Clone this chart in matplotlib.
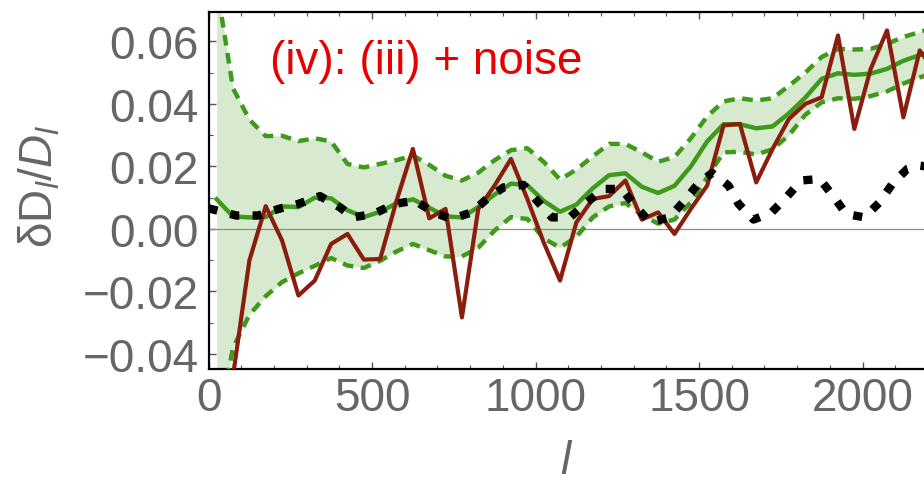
import numpy as np
import matplotlib
matplotlib.use('Agg')
import matplotlib.pyplot as plt
from matplotlib.ticker import MultipleLocator

# multipole bin centres
ell = [25 + 50 * i for i in range(45)]

# (iv) residual with noise
red_v = [-0.090, -0.047, -0.0101, 0.0073, -0.0037, -0.0213, -0.0165, -0.0048, -0.0016,
         -0.0098, -0.0096, 0.0090, 0.0256, 0.0034, 0.0064, -0.0283, 0.0064, 0.0139,
         0.0224, 0.0096, -0.0043, -0.0165, 0.0021, 0.0096, 0.0105, 0.0155, 0.0030,
         0.0053, -0.0016, 0.0064, 0.0139, 0.0331, 0.0336, 0.0149, 0.0256, 0.0352,
         0.0400, 0.0421, 0.0619, 0.0320, 0.0512, 0.0635, 0.0357, 0.0571, 0.0500]

# mean and band edges
mean_v = [0.0095, 0.0040, 0.0037, 0.0038, 0.0072, 0.0070, 0.0100, 0.0098, 0.0060,
          0.0038, 0.0055, 0.0082, 0.0095, 0.0068, 0.0040, 0.0037, 0.0070, 0.0110,
          0.0145, 0.0140, 0.0090, 0.0055, 0.0078, 0.0130, 0.0172, 0.0178, 0.0135,
          0.0115, 0.0138, 0.0200, 0.0280, 0.0335, 0.0335, 0.0322, 0.0328, 0.0370,
          0.0420, 0.0480, 0.0498, 0.0493, 0.0497, 0.0512, 0.0538, 0.0556, 0.0570]
upper_v = [0.078, 0.045, 0.035, 0.0297, 0.0298, 0.0281, 0.0290, 0.0280, 0.0208,
           0.0197, 0.0208, 0.0220, 0.0235, 0.0205, 0.0170, 0.0155, 0.0180, 0.0220,
           0.0252, 0.0258, 0.0215, 0.0158, 0.0190, 0.0232, 0.0272, 0.0272, 0.0245,
           0.0215, 0.0230, 0.0290, 0.0360, 0.0408, 0.0418, 0.0411, 0.0418, 0.0458,
           0.0500, 0.0550, 0.0576, 0.0574, 0.0576, 0.0592, 0.0614, 0.0630, 0.0645]
lower_v = [-0.065, -0.038, -0.0275, -0.0215, -0.0170, -0.0142, -0.0118, -0.0093, -0.0117,
           -0.0125, -0.0102, -0.0072, -0.0048, -0.0068, -0.0088, -0.0088, -0.0060, -0.0005,
           0.0038, 0.0032, -0.0030, -0.0060, -0.0025, 0.0037, 0.0072, 0.0083, 0.0045,
           0.0017, 0.0030, 0.0085, 0.0165, 0.0245, 0.0247, 0.0238, 0.0255, 0.0300,
           0.0365, 0.0405, 0.0418, 0.0416, 0.0425, 0.0440, 0.0465, 0.0485, 0.0500]

# theory curve (iii)
theo_l = [0, 85, 152, 214, 274, 341, 402, 442, 504, 571, 631, 688, 743, 805, 851, 902,
          963, 1009, 1050, 1105, 1157, 1208, 1263, 1309, 1350, 1410, 1456, 1497, 1540,
          1590, 1621, 1667, 1722, 1767, 1813, 1869, 1909, 1950, 2006, 2052, 2091, 2137,
          2172, 2230]
theo_v = [0.0066, 0.0043, 0.0043, 0.0064, 0.0080, 0.0105, 0.0069, 0.0037, 0.0048, 0.0080,
          0.0091, 0.0053, 0.0032, 0.0053, 0.0096, 0.0133, 0.0141, 0.0085, 0.0037, 0.0037,
          0.0085, 0.0128, 0.0128, 0.0069, 0.0021, 0.0037, 0.0091, 0.0144, 0.0179, 0.0139,
          0.0080, 0.0030, 0.0053, 0.0101, 0.0155, 0.0160, 0.0107, 0.0048, 0.0037, 0.0085,
          0.0144, 0.0192, 0.0203, 0.0195]

plt.rcParams['font.family'] = ['Liberation Sans', 'DejaVu Sans']
plt.rcParams['mathtext.fontset'] = 'custom'
plt.rcParams['mathtext.rm'] = 'Liberation Sans'
plt.rcParams['mathtext.it'] = 'Liberation Sans:italic'

W, H = 924, 485
fig = plt.figure(figsize=(W / 100, H / 100), dpi=100)
x0, x1 = 208.5, 208.5 + 2500 * 0.327
y_top, y_bot = 13, 370
ax = fig.add_axes([x0 / W, 1 - y_bot / H, (x1 - x0) / W, (y_bot - y_top) / H])

green = '#3f9a1b'
ax.fill_between(ell, lower_v, upper_v, color='#d7e9cf', lw=0, zorder=1)
ax.axhline(0, color='#8c8c8c', lw=0.9, zorder=2)
ax.plot(ell, upper_v, color=green, lw=3.2, dashes=(2.4, 1.7), dash_capstyle='butt', zorder=3)
ax.plot(ell, lower_v, color=green, lw=3.2, dashes=(2.4, 1.7), dash_capstyle='butt', zorder=3)
ax.plot(ell, mean_v, color=green, lw=3.2, zorder=4)
ax.plot(ell, red_v, color='#8b1d0e', lw=3.0, zorder=5)
ax.plot(theo_l, theo_v, color='black', lw=6.0, dashes=(1.1, 1.6), dash_capstyle='butt', zorder=6)

ax.set_xlim(0, 2500)
ax.set_ylim(-0.0448, 0.0694)
ax.xaxis.set_major_locator(MultipleLocator(500))
ax.xaxis.set_minor_locator(MultipleLocator(100))
ax.yaxis.set_major_locator(MultipleLocator(0.02))
ax.yaxis.set_minor_locator(MultipleLocator(0.01))
ax.set_yticks([-0.04, -0.02, 0.0, 0.02, 0.04, 0.06])
ax.set_yticklabels(['\u22120.04', '\u22120.02', '0.00', '0.02', '0.04', '0.06'])
ax.set_xticks([0, 500, 1000, 1500, 2000])
ax.set_xticklabels(['0', '500', '1000', '1500', '2000'])
ax.tick_params(which='both', direction='in', top=True, right=True, color='#555555',
               labelcolor='#666666', labelsize=33)
ax.tick_params(axis='y', pad=7)
ax.tick_params(axis='x', pad=5)
ax.tick_params(which='major', length=5, width=1)
ax.tick_params(which='minor', length=3, width=0.8)
for s in ax.spines.values():
    s.set_linewidth(1.6)
    s.set_color('black')

fig.text(270 / W, 1 - 62 / H, '(iv): (iii) + noise', color='#e60000', fontsize=33,
         ha='left', va='center')
fig.text(40 / W, 1 - 186 / H, r'$\mathrm{\delta D}_l/D_l$', color='#666666', fontsize=33,
         rotation=90, ha='center', va='center')
fig.text(567 / W, 1 - 462 / H, r'$l$', color='#666666', fontsize=33, ha='center', va='center')

fig.savefig('out.png', dpi=100)
